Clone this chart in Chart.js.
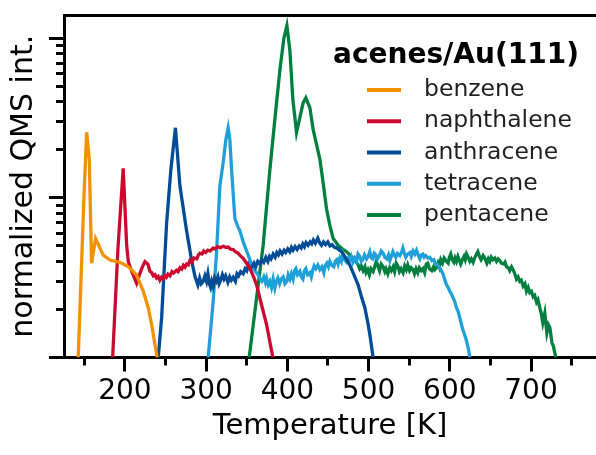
<!DOCTYPE html>
<html lang="en">
<head>
<meta charset="UTF-8">
<title>acenes/Au(111) TPD</title>
<script src="https://cdn.jsdelivr.net/npm/chart.js"></script>
<style>
    html, body { margin: 0; padding: 0; background: #fff; }
</style>
</head>
<body>
<canvas id="tpdChart" width="596" height="455"></canvas>
<script>
// [temperature K, normalized intensity]
const benzene = [
    [142.5, 0.10], [149.5, 0.99], [152.9, 2.58], [156.1, 1.75], [159.0, 0.39], [163.9, 0.556],
    [173.3, 0.438], [181.5, 0.408], [193.8, 0.395], [204.1, 0.371], [214.4, 0.329], [222.5, 0.261],
    [228.7, 0.205], [232.9, 0.161], [236.9, 0.121], [239.8, 0.10]
];
const naphthalene = [
    [184.9, 0.10], [191.4, 0.48], [197.9, 1.53], [202.1, 0.51], [204.1, 0.40], [208.2, 0.347],
    [214.4, 0.292], [218.5, 0.337], [221.5, 0.37], [224.6, 0.399], [228.3, 0.384], [230.8, 0.347],
    [233.0, 0.34], [235.0, 0.325], [237.0, 0.33], [239.0, 0.315], [241.0, 0.322], [243.0, 0.305],
    [245.0, 0.318], [247.1, 0.31], [249.0, 0.325], [251.0, 0.318], [253.0, 0.333], [255.4, 0.325],
    [258.0, 0.345], [260.0, 0.338], [263.5, 0.352], [265.5, 0.345], [267.7, 0.365], [270.0, 0.358],
    [272.0, 0.378], [274.0, 0.368], [276.0, 0.385], [278.0, 0.38], [280.0, 0.405], [282.5, 0.395],
    [285.0, 0.42], [288.5, 0.415], [290.5, 0.44], [292.3, 0.45], [295.0, 0.445], [297.0, 0.465],
    [299.5, 0.455], [302.0, 0.47], [305.0, 0.465], [308.7, 0.485], [311.0, 0.478], [314.0, 0.495],
    [317.5, 0.488], [321.0, 0.498], [324.0, 0.49], [327.0, 0.492], [330.0, 0.478], [333.3, 0.475],
    [336.0, 0.46], [339.0, 0.452], [342.0, 0.435], [345.6, 0.418], [349.0, 0.395], [353.8, 0.362],
    [358.0, 0.325], [362.1, 0.285], [368.2, 0.214], [374.4, 0.161], [380.6, 0.110], [382.2, 0.10]
];
const anthracene = [
    [241.0, 0.10], [245.2, 0.177], [251.3, 0.69], [256.6, 1.51], [262.2, 2.75], [267.7, 1.19],
    [275.9, 0.624], [282.1, 0.406], [286.2, 0.323], [289.8, 0.285], [292.0, 0.315], [294.0, 0.29],
    [296.4, 0.30], [298.5, 0.325], [300.5, 0.30], [302.2, 0.335], [304.0, 0.29], [305.5, 0.275],
    [307.0, 0.30], [308.7, 0.28], [310.5, 0.315], [312.5, 0.30], [314.5, 0.32], [316.0, 0.29],
    [318.0, 0.305], [320.0, 0.33], [322.0, 0.31], [324.0, 0.325], [326.8, 0.296], [329.0, 0.32],
    [331.0, 0.305], [333.3, 0.318], [336.0, 0.30], [338.0, 0.335], [340.0, 0.325], [342.5, 0.345],
    [345.6, 0.335], [348.0, 0.36], [350.0, 0.35], [352.0, 0.38], [354.0, 0.36], [356.5, 0.37],
    [359.0, 0.39], [361.0, 0.37], [363.5, 0.40], [366.2, 0.385], [368.5, 0.41], [371.0, 0.395],
    [373.5, 0.425], [376.0, 0.40], [378.0, 0.43], [380.0, 0.415], [382.5, 0.445], [385.0, 0.425],
    [387.0, 0.455], [389.0, 0.44], [391.0, 0.465], [393.5, 0.445], [396.0, 0.47], [398.0, 0.455],
    [400.5, 0.48], [403.0, 0.46], [405.0, 0.49], [407.0, 0.47], [409.5, 0.495], [412.0, 0.475],
    [414.5, 0.50], [417.0, 0.485], [419.0, 0.515], [421.0, 0.495], [423.0, 0.525], [425.5, 0.505],
    [428.0, 0.53], [430.0, 0.515], [432.0, 0.545], [434.5, 0.52], [437.5, 0.56], [440.0, 0.52],
    [442.0, 0.505], [444.5, 0.53], [447.0, 0.51], [449.8, 0.53], [452.5, 0.50], [455.0, 0.51],
    [458.0, 0.49], [461.0, 0.485], [464.0, 0.47], [466.7, 0.46], [469.5, 0.44], [472.0, 0.418],
    [476.9, 0.38], [481.8, 0.332], [487.1, 0.285], [491.7, 0.236], [495.4, 0.205], [499.1, 0.165],
    [501.5, 0.14], [505.6, 0.10]
];
const tetracene = [
    [302.5, 0.10], [305.8, 0.154], [308.7, 0.225], [312.9, 0.46], [316.9, 1.19], [321.0, 1.67],
    [324.3, 2.32], [327.1, 2.75], [329.2, 2.32], [331.3, 1.51], [335.4, 0.74], [339.1, 0.66],
    [341.5, 0.624], [345.6, 0.53], [351.8, 0.438], [357.9, 0.362], [364.1, 0.329], [366.5, 0.31],
    [368.6, 0.30], [371.0, 0.32], [373.0, 0.295], [374.4, 0.314], [376.5, 0.285], [378.5, 0.30],
    [380.5, 0.275], [382.5, 0.31], [384.6, 0.272], [386.5, 0.30], [388.3, 0.315], [390.5, 0.29],
    [392.5, 0.31], [394.8, 0.32], [397.0, 0.29], [399.4, 0.30], [401.0, 0.33], [403.1, 0.31],
    [405.0, 0.335], [407.1, 0.31], [409.0, 0.35], [410.5, 0.36], [412.5, 0.33], [415.4, 0.346],
    [417.0, 0.32], [419.1, 0.31], [421.0, 0.35], [422.8, 0.36], [425.0, 0.33], [427.7, 0.34],
    [429.5, 0.32], [431.4, 0.355], [433.0, 0.375], [435.1, 0.36], [437.5, 0.38], [440.0, 0.355],
    [442.5, 0.37], [444.9, 0.34], [446.5, 0.375], [448.6, 0.39], [450.5, 0.37], [452.3, 0.40],
    [454.5, 0.38], [457.2, 0.37], [459.0, 0.40], [460.9, 0.41], [462.5, 0.385], [464.6, 0.42],
    [466.5, 0.40], [468.3, 0.445], [470.5, 0.41], [472.9, 0.395], [475.0, 0.42], [476.9, 0.41],
    [478.5, 0.43], [480.6, 0.395], [483.0, 0.42], [485.2, 0.40], [487.0, 0.445], [489.2, 0.43],
    [491.0, 0.40], [492.9, 0.41], [495.0, 0.44], [497.5, 0.415], [499.5, 0.43], [501.5, 0.46],
    [503.5, 0.42], [505.2, 0.415], [507.0, 0.45], [508.9, 0.44], [511.0, 0.415], [513.8, 0.44],
    [515.5, 0.465], [517.9, 0.45], [520.0, 0.425], [522.5, 0.415], [524.5, 0.44], [526.2, 0.405],
    [528.0, 0.43], [529.9, 0.46], [531.5, 0.44], [533.5, 0.425], [535.5, 0.45], [538.5, 0.435],
    [540.5, 0.455], [542.2, 0.485], [544.0, 0.45], [545.8, 0.425], [548.0, 0.445], [550.8, 0.455],
    [552.5, 0.43], [554.8, 0.465], [557.0, 0.445], [559.0, 0.47], [561.0, 0.44], [563.1, 0.415],
    [565.0, 0.44], [566.8, 0.445], [568.5, 0.425], [570.5, 0.435], [573.0, 0.42], [575.4, 0.425],
    [578.0, 0.405], [580.4, 0.41], [582.0, 0.39], [584.0, 0.385], [586.0, 0.375], [587.7, 0.365],
    [589.5, 0.35], [591.4, 0.337], [593.5, 0.31], [596.0, 0.285], [598.0, 0.275], [600.0, 0.26],
    [602.0, 0.25], [604.1, 0.236], [606.0, 0.225], [608.2, 0.205], [610.2, 0.195], [612.0, 0.18],
    [614.4, 0.161], [616.4, 0.147], [618.5, 0.138], [620.6, 0.127], [623.4, 0.110], [624.6, 0.10]
];
const pentacene = [
    [353.0, 0.10], [362.1, 0.236], [370.2, 0.505], [378.5, 1.51], [384.6, 3.1], [390.8, 6.33],
    [395.7, 10.0], [399.4, 12.0], [403.1, 8.4], [406.8, 4.12], [411.3, 2.57], [415.4, 3.19],
    [419.5, 3.95], [422.8, 4.24], [427.7, 3.67], [431.8, 2.68], [440.0, 1.75], [444.0, 1.25],
    [448.2, 0.855], [452.3, 0.673], [456.4, 0.556], [462.5, 0.505], [467.5, 0.48], [472.9, 0.46],
    [477.0, 0.44], [481.0, 0.418], [484.0, 0.40], [486.8, 0.384], [489.0, 0.36], [491.0, 0.375],
    [493.3, 0.35], [495.5, 0.37], [497.0, 0.34], [499.1, 0.355], [501.0, 0.33], [503.0, 0.36],
    [505.6, 0.346], [507.5, 0.37], [509.5, 0.40], [511.4, 0.375], [513.5, 0.35], [515.5, 0.385],
    [517.9, 0.37], [520.0, 0.345], [521.5, 0.36], [523.7, 0.335], [526.0, 0.365], [528.0, 0.35],
    [530.2, 0.37], [532.0, 0.345], [534.0, 0.39], [536.0, 0.375], [538.0, 0.345], [540.0, 0.36],
    [542.5, 0.34], [544.5, 0.375], [546.5, 0.355], [548.2, 0.38], [550.5, 0.35], [552.5, 0.365],
    [554.8, 0.355], [556.5, 0.335], [558.5, 0.36], [560.6, 0.34], [562.5, 0.365], [565.0, 0.35],
    [567.1, 0.36], [569.0, 0.34], [571.0, 0.385], [572.9, 0.39], [575.0, 0.36], [577.8, 0.35],
    [580.0, 0.37], [581.5, 0.355], [583.6, 0.365], [585.5, 0.39], [587.0, 0.37], [588.9, 0.41],
    [591.0, 0.39], [593.0, 0.42], [595.9, 0.40], [598.0, 0.39], [599.5, 0.425], [601.2, 0.445],
    [603.0, 0.41], [605.0, 0.395], [606.5, 0.42], [608.2, 0.40], [610.0, 0.43], [611.5, 0.41],
    [613.5, 0.385], [615.5, 0.41], [617.5, 0.43], [619.0, 0.41], [620.6, 0.445], [622.5, 0.425],
    [624.6, 0.40], [626.5, 0.415], [628.7, 0.395], [630.5, 0.42], [632.5, 0.44], [634.5, 0.46],
    [636.5, 0.43], [638.5, 0.41], [641.0, 0.435], [643.0, 0.42], [645.6, 0.39], [647.5, 0.415],
    [649.2, 0.40], [651.0, 0.425], [653.0, 0.41], [655.4, 0.42], [657.5, 0.40], [659.5, 0.415],
    [661.5, 0.405], [663.5, 0.39], [666.5, 0.385], [668.0, 0.395], [669.8, 0.37], [672.0, 0.365],
    [673.8, 0.35], [676.0, 0.37], [677.9, 0.355], [680.0, 0.335], [682.1, 0.31], [684.0, 0.32],
    [686.2, 0.30], [688.0, 0.305], [690.3, 0.28], [692.5, 0.29], [694.4, 0.26], [696.5, 0.275],
    [698.5, 0.255], [700.5, 0.26], [702.6, 0.24], [704.5, 0.245], [706.8, 0.222], [708.5, 0.23],
    [710.8, 0.205], [712.5, 0.19], [714.5, 0.165], [717.0, 0.19], [719.5, 0.143], [721.5, 0.16],
    [723.2, 0.154], [725.7, 0.124], [727.5, 0.118], [729.3, 0.107], [730.5, 0.10]
];

const seriesNames = ['benzene', 'naphthalene', 'anthracene', 'tetracene', 'pentacene'];
const seriesData = [benzene, naphthalene, anthracene, tetracene, pentacene];
const seriesColors = ['#f39200', '#cc0a2f', '#004c97', '#20a0d8', '#007f3e'];
const legendTitle = 'acenes/Au(111)';

const xMajorTicks = [200, 300, 400, 500, 600, 700];
const xMinorTicks = [150, 250, 350, 450, 550, 650, 750];
const yMajorTicks = [0.1, 1, 10];
const yMinorTicks = [0.2, 0.3, 0.4, 0.5, 0.6, 0.7, 0.8, 0.9, 2, 3, 4, 5, 6, 7, 8, 9];

Chart.defaults.font.family = "'DejaVu Sans', sans-serif";
Chart.defaults.color = '#000';

// legend drawn inside the plot, top right
const insideLegend = {
    id: 'insideLegend',
    afterDraw(chart) {
        const c = chart.ctx;
        c.save();
        c.fillStyle = '#000';
        c.font = "bold 28px 'DejaVu Sans'";
        c.textAlign = 'left';
        c.textBaseline = 'alphabetic';
        c.fillText(legendTitle, 333, 63);
        c.font = "23.5px 'DejaVu Sans'";
        c.textBaseline = 'middle';
        chart.data.datasets.forEach((ds, i) => {
            const y = 90 + i * 31.25;
            c.strokeStyle = ds.borderColor;
            c.lineWidth = 4;
            c.beginPath();
            c.moveTo(367, y);
            c.lineTo(401, y);
            c.stroke();
            c.fillStyle = '#231f20';
            c.fillText(ds.label, 424, y);
        });
        c.restore();
    }
};

const setTicks = list => scale => { scale.ticks = list.map(v => ({ value: v })); };

const ctx = document.getElementById('tpdChart').getContext('2d');
new Chart(ctx, {
    type: 'line',
    data: {
        datasets: seriesNames.map((name, i) => ({
            label: name,
            data: seriesData[i].map(p => ({ x: p[0], y: p[1] })),
            borderColor: seriesColors[i],
            backgroundColor: seriesColors[i],
            borderWidth: 3.3,
            pointRadius: 0,
            fill: false,
            tension: 0
        }))
    },
    options: {
        responsive: false,
        animation: false,
        devicePixelRatio: 1,
        layout: { padding: { left: 0, top: 15, right: 0, bottom: 0 } },
        plugins: { legend: { display: false }, tooltip: { enabled: false } },
        scales: {
            x: {
                type: 'linear', position: 'bottom', weight: 1, min: 125, max: 780,
                afterBuildTicks: setTicks(xMajorTicks),
                afterFit: s => { s.height = 97.5; },
                grid: { drawOnChartArea: false, tickLength: 14, tickWidth: 3, tickColor: '#000' },
                border: { display: true, width: 3, color: '#000' },
                ticks: { font: { size: 28 }, color: '#000', padding: 3, maxRotation: 0, autoSkip: false },
                title: { display: true, text: 'Temperature [K]', font: { size: 29 }, color: '#000', padding: { top: 0, bottom: 11 } }
            },
            xMinor: {
                type: 'linear', position: 'bottom', weight: 0, min: 125, max: 780,
                afterBuildTicks: setTicks(xMinorTicks),
                afterFit: s => { s.height = 0; },
                grid: { drawOnChartArea: false, tickLength: 8, tickWidth: 3, tickColor: '#000' },
                border: { display: false },
                ticks: { display: false }
            },
            xTop: {
                type: 'linear', position: 'top', min: 125, max: 780,
                afterBuildTicks: setTicks([125]),
                afterFit: s => { s.height = 0; },
                grid: { display: false },
                border: { display: true, width: 3, color: '#000' },
                ticks: { display: false }
            },
            y: {
                type: 'logarithmic', position: 'left', weight: 1, min: 0.1, max: 14,
                afterBuildTicks: setTicks(yMajorTicks),
                afterFit: s => { s.width = 64; },
                grid: { drawOnChartArea: false, tickLength: 15, tickWidth: 3, tickColor: '#000' },
                border: { display: true, width: 3, color: '#000' },
                ticks: { display: false },
                title: { display: true, text: 'normalized QMS int.', font: { size: 30 }, color: '#000', padding: { top: 6, bottom: 0 } }
            },
            yMinor: {
                type: 'logarithmic', position: 'left', weight: 0, min: 0.1, max: 14,
                afterBuildTicks: setTicks(yMinorTicks),
                afterFit: s => { s.width = 0; },
                grid: { drawOnChartArea: false, tickLength: 8, tickWidth: 3, tickColor: '#000' },
                border: { display: false },
                ticks: { display: false }
            }
        }
    },
    plugins: [insideLegend]
});
</script>
</body>
</html>
